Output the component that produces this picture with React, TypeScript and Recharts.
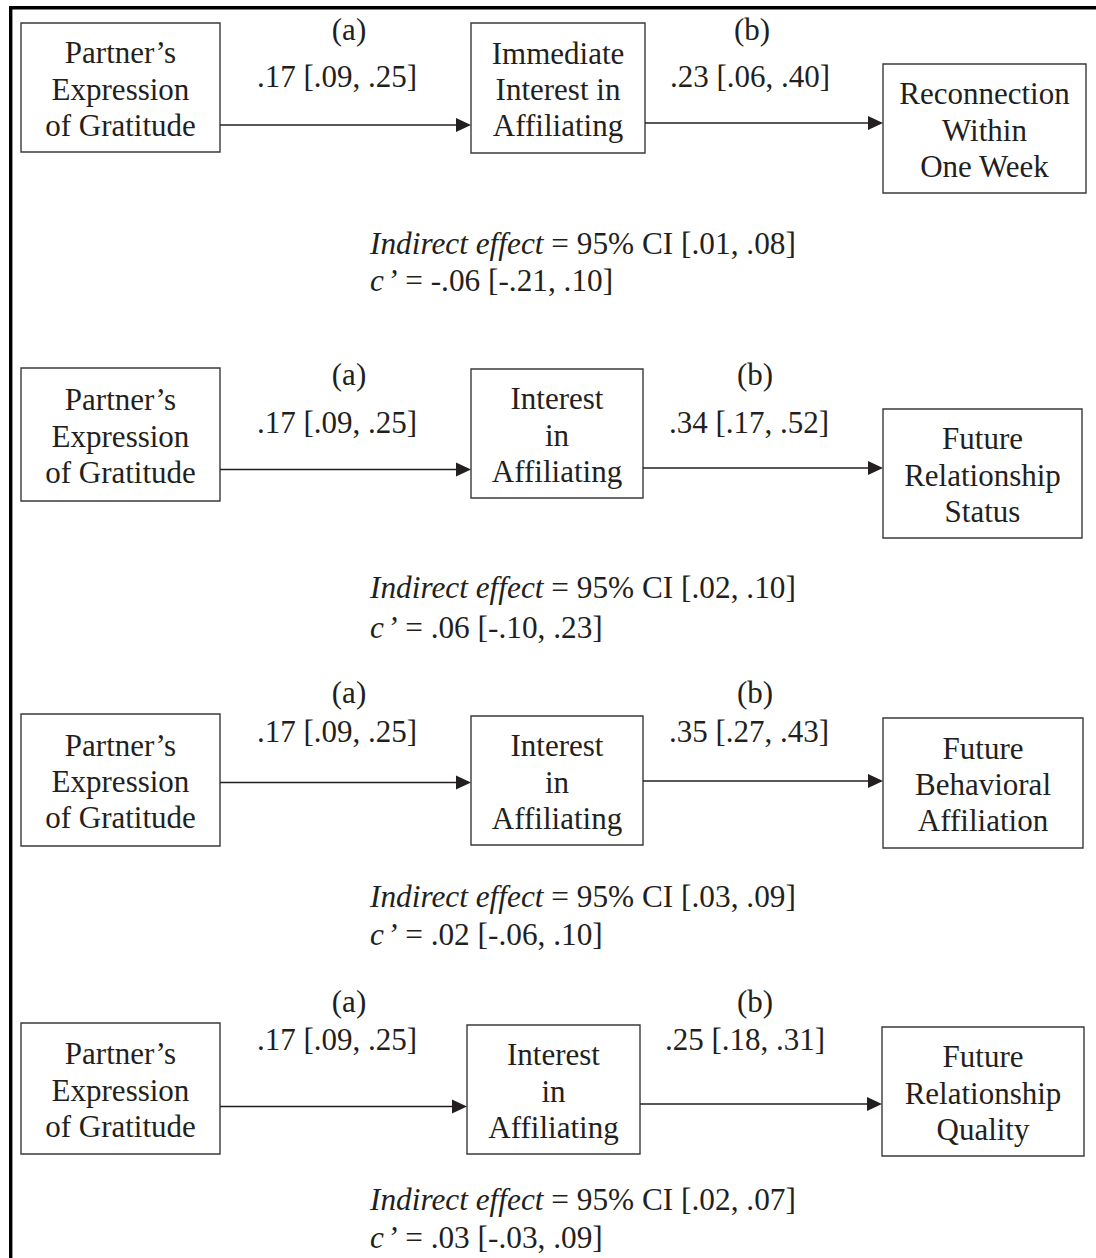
import React from "react";
import { ScatterChart, Scatter, XAxis, YAxis, ReferenceArea, ReferenceLine } from "recharts";

if (typeof document !== "undefined") document.body.style.margin = "0";

// ---- content ----
const predictorLines = ["Partner’s", "Expression", "of Gratitude"];
const mediatorLines = [
  ["Immediate", "Interest in", "Affiliating"],
  ["Interest", "in", "Affiliating"],
  ["Interest", "in", "Affiliating"],
  ["Interest", "in", "Affiliating"],
];
const outcomeLines = [
  ["Reconnection", "Within", "One Week"],
  ["Future", "Relationship", "Status"],
  ["Future", "Behavioral", "Affiliation"],
  ["Future", "Relationship", "Quality"],
];
// [estimate, lower, upper]
const aPath = [
  [0.17, 0.09, 0.25],
  [0.17, 0.09, 0.25],
  [0.17, 0.09, 0.25],
  [0.17, 0.09, 0.25],
];
const bPath = [
  [0.23, 0.06, 0.4],
  [0.34, 0.17, 0.52],
  [0.35, 0.27, 0.43],
  [0.25, 0.18, 0.31],
];
const indirectCI = [
  [0.01, 0.08],
  [0.02, 0.1],
  [0.03, 0.09],
  [0.02, 0.07],
];
const cPrime = [
  [-0.06, -0.21, 0.1],
  [0.06, -0.1, 0.23],
  [0.02, -0.06, 0.1],
  [0.03, -0.03, 0.09],
];

// ---- layout (units = px of the 1096 x 1258 page) ----
const W = 1096;
const H = 1258;
const FONT = "'Liberation Serif', 'Times New Roman', serif";
const INK = "#231f20";
// x1, x2, y1, y2 for predictor, mediator, outcome boxes
const boxLayout = [
  [[21, 220, 23, 152], [471, 645, 23, 153], [883, 1086, 64, 193]],
  [[21, 220, 368, 501], [471, 643, 369, 498], [883, 1082, 409, 538]],
  [[21, 220, 714, 846], [471, 643, 716, 845], [883, 1083, 718, 848]],
  [[21, 220, 1023, 1154], [467, 640, 1025, 1154], [882, 1084, 1027, 1156]],
];
const arrowY = [[125, 123], [469.5, 468], [782.5, 781], [1106.5, 1104]];
const labelY = [[40, 87], [385, 433], [703, 742], [1012, 1050]];
const aX = [[349, 337], [349, 337], [349, 337], [349, 337]];
const bX = [[752, 750], [755, 749], [755, 749], [755, 745]];
const noteX = 370;
const noteY = [[253.5, 290.5], [597.5, 637.5], [906.5, 944.5], [1209.5, 1247.5]];
const HEAD = 15;

const fmt = (v: number) => (v < 0 ? "-" : "") + Math.abs(v).toFixed(2).replace(/^0/, "");
const ci = (e: number[]) => `${fmt(e[0])} [${fmt(e[1])}, ${fmt(e[2])}]`;

// build marks
const texts: any[] = [];
const heads: any[] = [];
const shafts: { x1: number; x2: number; y: number }[] = [];
const boxes: number[][] = [];

boxLayout.forEach((row, m) => {
  const labels = [predictorLines, mediatorLines[m], outcomeLines[m]];
  row.forEach((b, k) => {
    boxes.push(b);
    texts.push({ x: (b[0] + b[1]) / 2, y: (b[2] + b[3]) / 2, kind: "box", lines: labels[k] });
  });
  [0, 1].forEach((k) => {
    const from = row[k][1];
    const to = row[k + 1][0];
    shafts.push({ x1: from, x2: to - HEAD + 1, y: arrowY[m][k] });
    heads.push({ x: to, y: arrowY[m][k] });
  });
  texts.push({ x: aX[m][0], y: labelY[m][0], kind: "coef", text: "(a)" });
  texts.push({ x: aX[m][1], y: labelY[m][1], kind: "coef", text: ci(aPath[m]) });
  texts.push({ x: bX[m][0], y: labelY[m][0], kind: "coef", text: "(b)" });
  texts.push({ x: bX[m][1], y: labelY[m][1], kind: "coef", text: ci(bPath[m]) });
  texts.push({
    x: noteX,
    y: noteY[m][0],
    kind: "note",
    italic: "Indirect effect",
    text: ` = 95% CI [${fmt(indirectCI[m][0])}, ${fmt(indirectCI[m][1])}]`,
  });
  texts.push({ x: noteX, y: noteY[m][1], kind: "cprime", text: ` = ${ci(cPrime[m])}` });
});

const TextShape = (p: any) => {
  const d = p.payload;
  const { cx, cy } = p;
  if (d.kind === "box") {
    const n = d.lines.length;
    return (
      <g>
        {d.lines.map((l: string, i: number) => (
          <text key={i} x={cx} y={cy + 12 + (i - (n - 1) / 2) * 36.3} textAnchor="middle" fontSize={31} fill={INK} fontFamily={FONT}>
            {l}
          </text>
        ))}
      </g>
    );
  }
  if (d.kind === "coef") {
    return (
      <text x={cx} y={cy} textAnchor="middle" fontSize={31} fill={INK} fontFamily={FONT}>
        {d.text}
      </text>
    );
  }
  if (d.kind === "cprime") {
    return (
      <text x={cx} y={cy} textAnchor="start" fontSize={31.3} fill={INK} fontFamily={FONT}>
        <tspan fontStyle="italic">c</tspan>
        <tspan dx={3} fontStyle="italic">’</tspan>
        <tspan>{d.text}</tspan>
      </text>
    );
  }
  return (
    <text x={cx} y={cy} textAnchor="start" fontSize={31.3} fill={INK} fontFamily={FONT}>
      <tspan fontStyle="italic">{d.italic}</tspan>
      <tspan>{d.text}</tspan>
    </text>
  );
};

const HeadShape = (p: any) => {
  const { cx, cy } = p;
  return <polygon points={`${cx},${cy} ${cx - HEAD},${cy - 7} ${cx - HEAD},${cy + 7}`} fill={INK} />;
};

export default function App() {
  return (
    <div style={{ width: W, height: H, background: "#fff" }}>
      <ScatterChart width={W} height={H} margin={{ top: 0, right: 0, bottom: 0, left: 0 }}>
        <XAxis type="number" dataKey="x" domain={[0, W]} hide allowDataOverflow />
        <YAxis type="number" dataKey="y" domain={[0, H]} reversed hide allowDataOverflow />
        {/* frame */}
        <ReferenceLine segment={[{ x: 10.7, y: 6 }, { x: 10.7, y: H }]} stroke="#000" strokeWidth={3.4} ifOverflow="visible" />
        <ReferenceLine segment={[{ x: 9, y: 7.7 }, { x: W, y: 7.7 }]} stroke="#000" strokeWidth={3.4} ifOverflow="visible" />
        {boxes.map((b, i) => (
          <ReferenceArea key={`b${i}`} x1={b[0]} x2={b[1]} y1={b[2]} y2={b[3]} fill="#fff" fillOpacity={0} stroke="#3a3a3a" strokeWidth={1.4} ifOverflow="visible" />
        ))}
        {shafts.map((s, i) => (
          <ReferenceLine key={`s${i}`} segment={[{ x: s.x1, y: s.y }, { x: s.x2, y: s.y }]} stroke={INK} strokeWidth={1.5} ifOverflow="visible" />
        ))}
        <Scatter data={heads} shape={HeadShape} isAnimationActive={false} />
        <Scatter data={texts} shape={TextShape} isAnimationActive={false} />
      </ScatterChart>
    </div>
  );
}
